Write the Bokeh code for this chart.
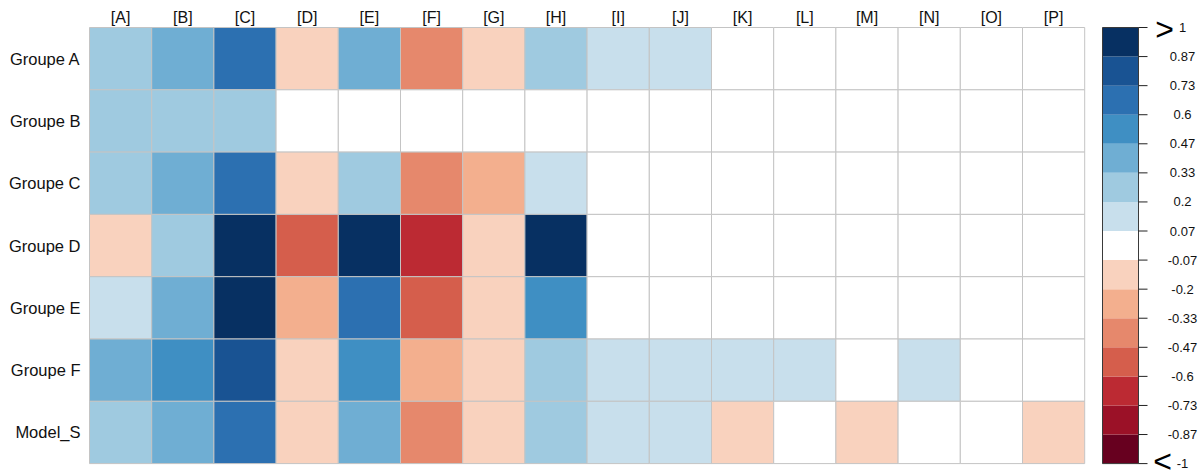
import numpy as np
from bokeh.plotting import figure
from bokeh.models import Range1d, LinearColorMapper, ColumnDataSource
from bokeh.transform import transform
from bokeh.core.properties import value
from bokeh.embed import file_html
from bokeh.resources import INLINE

columns = ["[A]", "[B]", "[C]", "[D]", "[E]", "[F]", "[G]", "[H]",
           "[I]", "[J]", "[K]", "[L]", "[M]", "[N]", "[O]", "[P]"]
rows = ["Groupe A", "Groupe B", "Groupe C", "Groupe D", "Groupe E", "Groupe F", "Model_S"]

groupe_a = [0.27, 0.40, 0.67, -0.13, 0.40, -0.40, -0.13, 0.27, 0.13, 0.13, 0, 0, 0, 0, 0, 0]
groupe_b = [0.27, 0.27, 0.27, 0, 0, 0, 0, 0, 0, 0, 0, 0, 0, 0, 0, 0]
groupe_c = [0.27, 0.40, 0.67, -0.13, 0.27, -0.40, -0.27, 0.13, 0, 0, 0, 0, 0, 0, 0, 0]
groupe_d = [-0.13, 0.27, 0.93, -0.53, 0.93, -0.67, -0.13, 0.93, 0, 0, 0, 0, 0, 0, 0, 0]
groupe_e = [0.13, 0.40, 0.93, -0.27, 0.67, -0.53, -0.13, 0.53, 0, 0, 0, 0, 0, 0, 0, 0]
groupe_f = [0.40, 0.53, 0.80, -0.13, 0.53, -0.27, -0.13, 0.27, 0.13, 0.13, 0.13, 0.13, 0, 0.13, 0, 0]
model_s = [0.27, 0.40, 0.67, -0.13, 0.40, -0.40, -0.13, 0.27, 0.13, 0.13, -0.13, 0, -0.13, 0, 0, -0.13]
row_values = [groupe_a, groupe_b, groupe_c, groupe_d, groupe_e, groupe_f, model_s]

cb_labels = ["-1", "-0.87", "-0.73", "-0.6", "-0.47", "-0.33", "-0.2", "-0.07",
             "0.07", "0.2", "0.33", "0.47", "0.6", "0.73", "0.87", "1"]

palette = ["#67001F", "#9B1127", "#BC2A33", "#D55E4C", "#E6886C", "#F3AF8E", "#F9D2BE",
           "#FFFFFF", "#C8DFEC", "#9FCAE0", "#6FAED3", "#3F8FC3", "#2C70B1", "#195393", "#073062"]

W, H = 1199, 474
cw, ch = 62.2, 62.3
left_px, top_px = 89, 27
nrow, ncol = len(rows), len(columns)
xs = -left_px / cw
xe = xs + W / cw
ye = nrow + top_px / ch
ys = ye - H / ch

p = figure(width=W, height=H, x_range=Range1d(xs, xe), y_range=Range1d(ys, ye),
           output_backend="svg", toolbar_location=None, min_border=0,
           x_axis_location=None, y_axis_location=None)
p.grid.visible = False
p.outline_line_color = None
p.background_fill_color = "white"
p.border_fill_color = "white"

# heatmap cells
cx, cy, cv = [], [], []
for r, vals in enumerate(row_values):
    for c, v in enumerate(vals):
        cx.append(c + 0.5)
        cy.append(nrow - r - 0.5)
        cv.append(v)
src = ColumnDataSource(dict(x=cx, y=cy, v=cv))
mapper = LinearColorMapper(palette=palette, low=-1, high=1)
p.rect(x="x", y="y", width=1, height=1, source=src,
       fill_color=transform("v", mapper), line_color="#C4C4C4", line_width=1)

font = value("Liberation Sans")
# column labels
p.text(x=[c + 0.5 for c in range(ncol)], y=[nrow + 10 / ch] * ncol, text=columns,
       text_font=font, text_font_size="16px", text_align="center",
       text_baseline="middle", text_color="#111111")
# row labels
p.text(x=[-9 / cw] * nrow, y=[nrow - r - 0.5 for r in range(nrow)], text=rows,
       text_font=font, text_font_size="16.5px", text_align="right",
       text_baseline="middle", text_color="#111111")

# colour bar
p.extra_y_ranges = {"cb": Range1d(ys / nrow * 2 - 1, ye / nrow * 2 - 1)}
nb = len(palette)
edges = np.linspace(-1, 1, nb + 1)
bx0 = (1102 - left_px) / cw
bx1 = (1138 - left_px) / cw
centers = (edges[:-1] + edges[1:]) / 2
p.rect(x=[(bx0 + bx1) / 2] * nb, y=list(centers), width=bx1 - bx0, height=2 / nb,
       fill_color=palette, line_color=None, y_range_name="cb")
p.rect(x=[(bx0 + bx1) / 2], y=[0], width=bx1 - bx0, height=2,
       fill_color=None, line_color="#3A3A3A", line_width=1, y_range_name="cb")
tick_len = 9 / cw
p.segment(x0=[bx1] * len(edges), y0=list(edges), x1=[bx1 + tick_len] * len(edges),
          y1=list(edges), line_color="#222222", line_width=1, y_range_name="cb")
p.text(x=[(1182 - left_px) / cw] * len(edges), y=list(edges), text=cb_labels,
       text_font=font, text_font_size="13px", text_align="center",
       text_baseline="middle", text_color="#111111", y_range_name="cb")
px_cb = 2 / (nrow * ch)
p.text(x=[(1164 - left_px) / cw, (1162 - left_px) / cw],
       y=[edges[-1] - 1 * px_cb, edges[0] + 3 * px_cb],
       text=[">", "<"], text_font=font, text_font_size="32px", text_align="center",
       text_baseline="middle", text_color="#000000", y_range_name="cb")

open("out.html", "w").write(file_html(p, INLINE))
